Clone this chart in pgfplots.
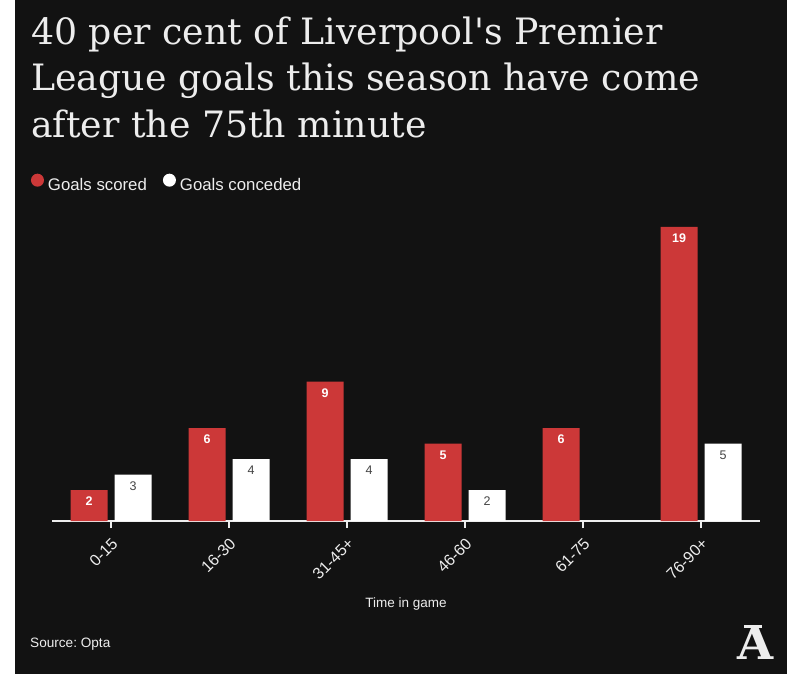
\documentclass[border=0pt]{standalone}
\usepackage{fontspec}
\setmainfont{Liberation Sans}
\newfontfamily\titlefont{DejaVu Serif}
\usepackage{pgfplots}
\pgfplotsset{compat=1.18}

\definecolor{bg}{HTML}{121212}
\definecolor{scored}{HTML}{CC3838}
\definecolor{conceded}{HTML}{FFFFFF}
\definecolor{txt}{HTML}{EDEDED}
\definecolor{darklbl}{HTML}{444444}

\pgfplotsset{
  circlelegend/.style={legend image code/.code={
      \fill[##1] (6.5pt,5.3pt) circle (6.5pt);
      \path (0pt,0pt) (17pt,0pt);}},
}

\begin{document}
\begin{tikzpicture}
% background, 1pt = 1px of the reference
\fill[white] (0pt,0pt) rectangle (800pt,-674pt);
\fill[bg] (15pt,0pt) rectangle (787pt,-674pt);

% title
\begin{scope}[every node/.style={anchor=base west, inner sep=0pt, text=txt,
    font=\titlefont\fontsize{36.3}{40}\selectfont}]
\node at (31pt,-44.5pt) {40 per cent of Liverpool's Premier};
\node at (31pt,-90.7pt) {League goals this season have come};
\node at (31pt,-137.3pt) {after the 75th minute};
\end{scope}

\begin{axis}[
  at={(52pt,-521pt)}, anchor=south west,
  scale only axis, width=708pt, height=309.5pt,
  xmin=-0.5, xmax=5.5, ymin=0, ymax=20,
  ybar=7pt, bar width=37pt,
  axis x line=bottom, axis y line=none,
  axis line style={draw=txt, line width=2pt, -},
  xtick={0,...,5},
  xticklabels={0-15,16-30,31-45+,46-60,61-75,76-90+},
  ytick=\empty,
  tick align=outside,
  major tick length=7pt,
  tick style={draw=txt, line width=1.5pt},
  xticklabel style={font=\fontsize{16}{18}\selectfont, text=txt,
    inner sep=0pt, anchor=east, xshift=4pt, yshift=-13pt, rotate=45},
  xlabel={Time in game},
  xlabel style={at={(axis description cs:0.5,-0.2779)}, anchor=base,
    font=\fontsize{13.5}{15}\selectfont, text=txt, inner sep=0pt},
  legend style={at={(axis description cs:-0.0297,1.1222)}, anchor=north west,
    draw=none, fill=none, inner sep=0pt, outer sep=0pt, text=txt,
    font=\fontsize{16.8}{18}\selectfont, legend columns=2,
    /tikz/every even column/.style={column sep=16pt},
    nodes={inner sep=0pt}},
  /pgf/number format/assume math mode=true,
  nodes near coords,
  clip=false,
]
\addplot[fill=scored, draw=none, circlelegend,
  every node near coord/.append style={anchor=south, yshift=-16pt,
    inner sep=0pt, text=white, font=\bfseries\fontsize{12.5}{14}\selectfont}]
  coordinates {(0,2) (1,6) (2,9) (3,5) (4,6) (5,19)};
\addlegendentry{Goals scored}

\addplot[fill=conceded, draw=none, circlelegend,
  every node near coord/.append style={anchor=south, yshift=-16pt,
    inner sep=0pt, text=darklbl, font=\fontsize{12.5}{14}\selectfont}]
  coordinates {(0,3) (1,4) (2,4) (3,2) (5,5)};
\addlegendentry{Goals conceded}
\end{axis}

% source and logo
\node[anchor=base west, inner sep=0pt, text=txt, font=\fontsize{13.6}{15}\selectfont]
  at (30pt,-647.5pt) {Source:\ Opta};
\node[anchor=base, inner sep=0pt, text=txt, font=\titlefont\bfseries\fontsize{46.5}{50}\selectfont]
  at (756pt,-659pt) {A};
\fill[txt] (744pt,-624.5pt) rectangle (762pt,-627.5pt);
\end{tikzpicture}
\end{document}
